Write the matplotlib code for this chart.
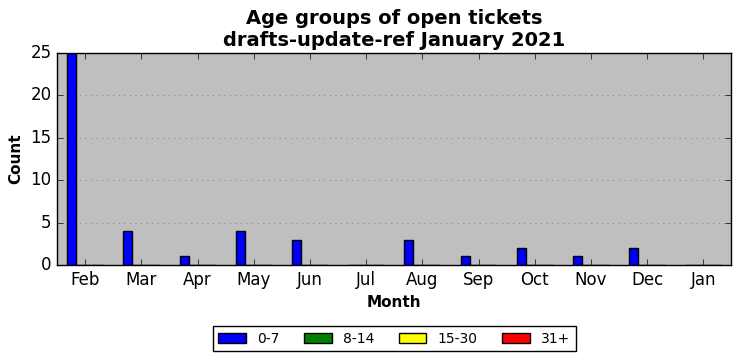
import matplotlib
matplotlib.use('Agg')
import matplotlib.pyplot as plt
import numpy as np

# Month labels and counts per age group
months = ['Feb', 'Mar', 'Apr', 'May', 'Jun', 'Jul', 'Aug', 'Sep', 'Oct', 'Nov', 'Dec', 'Jan']
age_0_7 = [25, 4, 1, 4, 3, 0, 3, 1, 2, 1, 2, 0]
age_8_14 = [0, 0, 0, 0, 0, 0, 0, 0, 0, 0, 0, 0]
age_15_30 = [0, 0, 0, 0, 0, 0, 0, 0, 0, 0, 0, 0]
age_31 = [0, 0, 0, 0, 0, 0, 0, 0, 0, 0, 0, 0]

series = [('0-7', age_0_7, 'blue'), ('8-14', age_8_14, 'green'),
          ('15-30', age_15_30, 'yellow'), ('31+', age_31, 'red')]

plt.style.use('classic')
fig = plt.figure(figsize=(7.41, 3.61), dpi=100)
ax = fig.add_axes([0.077, 0.266, 0.910, 0.588])
ax.set_facecolor('#bfbfbf')

x = np.arange(len(months))
width = 0.16
for i, (label, vals, color) in enumerate(series):
    ax.bar(x + (i - 1.5) * width, vals, width, color=color, label=label,
           edgecolor='black', linewidth=1)

ax.set_xlim(-0.5, 11.5)
ax.set_ylim(0, 25)
ax.set_xticks(x)
ax.set_xticklabels(months)
ax.set_yticks(range(0, 26, 5))
ax.yaxis.grid(True, linestyle=':', color='gray')
ax.xaxis.grid(False)
ax.set_axisbelow(True)

ax.set_xlabel('Month', fontweight='bold', fontsize=11)
ax.set_ylabel('Count', fontweight='bold', fontsize=11)
ax.set_title('Age groups of open tickets\ndrafts-update-ref January 2021',
             fontweight='bold', fontsize=14)
ax.legend(loc='upper center', bbox_to_anchor=(0.5, -0.256), ncol=4,
          fontsize=10, frameon=True, columnspacing=1.75)

plt.savefig('out.png', dpi=100)
